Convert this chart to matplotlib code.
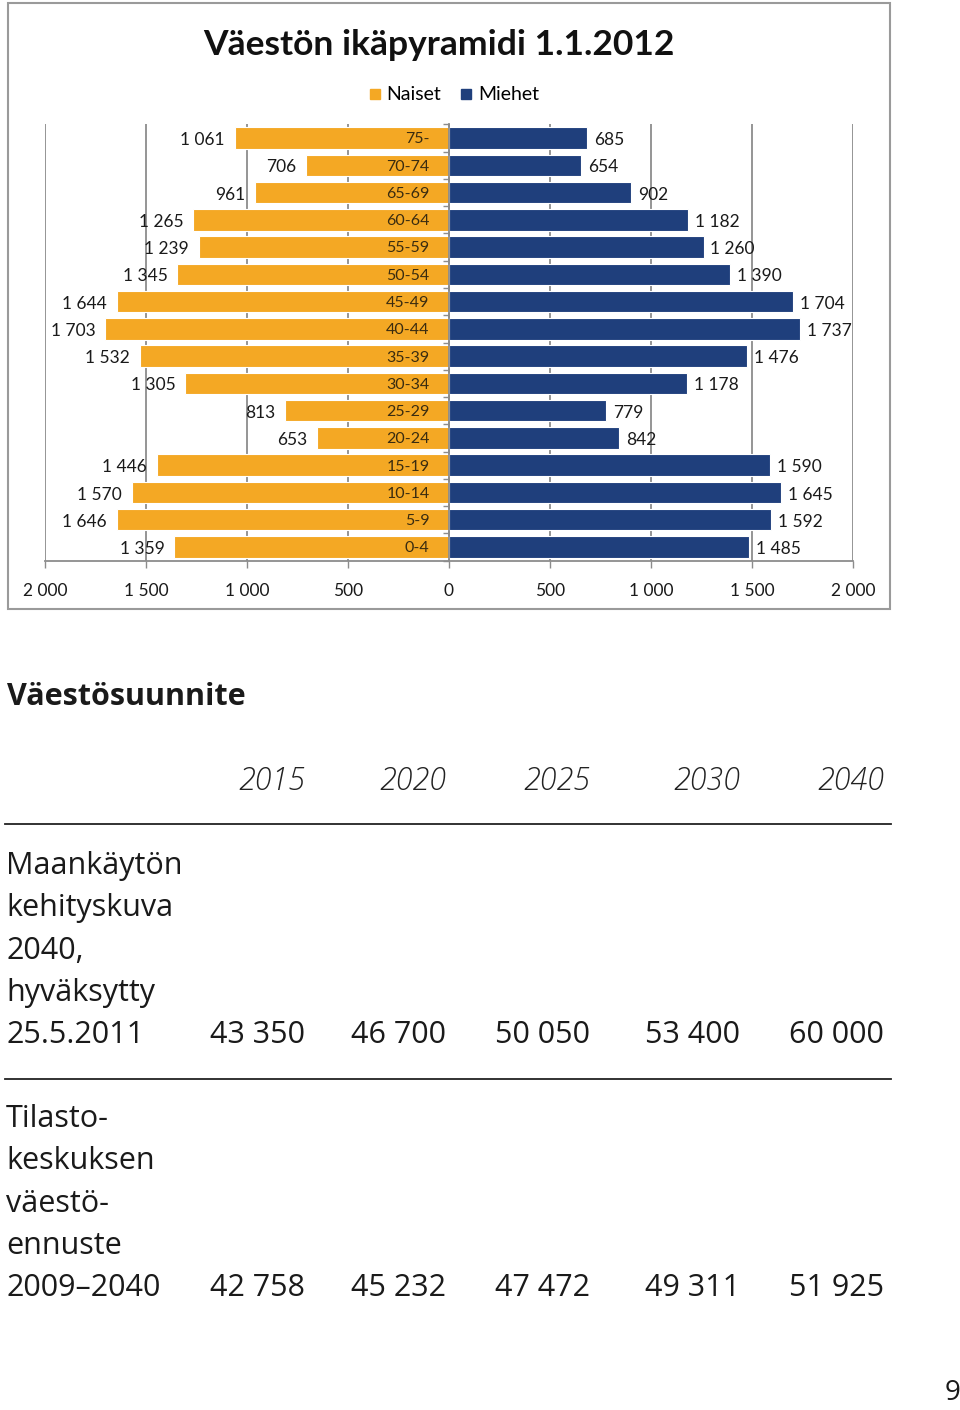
import numpy as np
import matplotlib.pyplot as plt
from matplotlib.lines import Line2D
from matplotlib.patches import Rectangle

# Ikäryhmät alhaalta ylös
ages = ['0-4', '5-9', '10-14', '15-19', '20-24', '25-29', '30-34', '35-39',
        '40-44', '45-49', '50-54', '55-59', '60-64', '65-69', '70-74', '75-']
naiset = [1359, 1646, 1570, 1446, 653, 813, 1305, 1532,
          1703, 1644, 1345, 1239, 1265, 961, 706, 1061]
miehet = [1485, 1592, 1645, 1590, 842, 779, 1178, 1476,
          1737, 1704, 1390, 1260, 1182, 902, 654, 685]
xticks = [-2000, -1500, -1000, -500, 0, 500, 1000, 1500, 2000]

# Väestösuunnite-taulukko
years = ['2015', '2020', '2025', '2030', '2040']
row_labels = [['Maankäytön', 'kehityskuva', '2040,', 'hyväksytty', '25.5.2011'],
              ['Tilasto-', 'keskuksen', 'väestö-', 'ennuste', '2009–2040']]
row_values = [[43350, 46700, 50050, 53400, 60000],
              [42758, 45232, 47472, 49311, 51925]]

ORANGE = '#F4A824'
NAVY = '#1F3F7C'
GRID = '#8c8c8c'
W, H = 960, 1410


def fmt(v):
    return f'{abs(v):,}'.replace(',', ' ')


def fx(px):
    return px / W


def fy(py):
    return 1 - py / H


fig = plt.figure(figsize=(9.6, 14.1), dpi=100)
fig.patch.set_facecolor('white')

# chart frame
fig.patches.append(Rectangle((fx(8), fy(609)), fx(890) - fx(8), fy(3) - fy(609),
                             transform=fig.transFigure, fill=False,
                             edgecolor='#9a9a9a', linewidth=1.5))

ax = fig.add_axes([fx(45), fy(560.6), fx(853) - fx(45), fy(124.4) - fy(560.6)])
y = np.arange(len(ages))
ax.barh(y, [-v for v in naiset], height=0.79, color=ORANGE, edgecolor='white',
        linewidth=0.8, zorder=3)
ax.barh(y, miehet, height=0.79, color=NAVY, edgecolor='white',
        linewidth=0.8, zorder=3)

ax.set_xlim(-2000, 2000)
ax.set_ylim(-0.5, len(ages) - 0.5)
ax.set_xticks(xticks)
ax.set_xticklabels([fmt(t) for t in xticks], family='Lato', fontsize=12.5,
                   color='#1a1a1a')
ax.tick_params(axis='x', length=5, width=1, color=GRID, pad=11)
ax.set_yticks([])
ax.set_yticks(np.arange(-0.5, len(ages)), minor=True)
ax.tick_params(axis='y', which='minor', length=4, width=1, color=GRID,
               direction='out')
ax.grid(axis='x', color=GRID, linewidth=1.3, zorder=0)
for s in ['top', 'right']:
    ax.spines[s].set_visible(False)
ax.spines['bottom'].set_color(GRID)
ax.spines['bottom'].set_linewidth(1.3)
# y-axis spine at zero for the minor ticks
ax.spines['left'].set_position(('data', 0))
ax.spines['left'].set_color(GRID)
ax.spines['left'].set_linewidth(1.3)
ax.spines['left'].set_zorder(4)

for i in range(len(ages)):
    ax.annotate(fmt(naiset[i]), (-naiset[i], i), xytext=(-7, -1.5),
                textcoords='offset points', ha='right', va='center',
                family='Lato', fontsize=12.5, color='#1a1a1a', zorder=5)
    ax.annotate(fmt(miehet[i]), (miehet[i], i), xytext=(5, -1.5),
                textcoords='offset points', ha='left', va='center',
                family='Lato', fontsize=12.5, color='#1a1a1a', zorder=5)
    ax.annotate(ages[i], (0, i), xytext=(-14, -1), textcoords='offset points',
                ha='right', va='center', family='Lato', fontsize=11.5,
                color='#3a2c10', zorder=5)

fig.text(fx(439), fy(45), 'Väestön ikäpyramidi 1.1.2012', ha='center',
         va='center', family='Lato', fontweight='bold', fontsize=25.5,
         color='#111111')

handles = [Line2D([], [], marker='s', linestyle='none', markersize=7,
                  color=ORANGE, label='Naiset'),
           Line2D([], [], marker='s', linestyle='none', markersize=7,
                  color=NAVY, label='Miehet')]
fig.legend(handles=handles, loc='center', bbox_to_anchor=(fx(452), fy(95)),
           ncol=2, frameon=False, prop={'family': 'Lato', 'size': 14},
           handletextpad=0.1, columnspacing=0.8, handlelength=1.0)

# Väestösuunnite
fig.text(fx(7), fy(697), 'Väestösuunnite', ha='left', va='center',
         family='Open Sans', fontweight='bold', fontsize=22, color='#1a1a1a')

col_x = [305, 446, 590, 740, 884]
for cx, yr in zip(col_x, years):
    fig.text(fx(cx), fy(781), yr, ha='right', va='center', family='Open Sans',
             fontstyle='italic', fontweight='light', fontsize=22,
             color='#222222')

for py in [824, 1079]:
    fig.add_artist(Line2D([fx(5), fx(891)], [fy(py), fy(py)],
                          transform=fig.transFigure, color='#222222',
                          linewidth=1.3))

row_top = [866, 1119]
for r in range(2):
    for k, txt in enumerate(row_labels[r]):
        fig.text(fx(6), fy(row_top[r] + k * 42.3), txt, ha='left',
                 va='center', family='Open Sans', fontsize=22,
                 color='#1a1a1a')
    vy = row_top[r] + 4 * 42.3
    for cx, v in zip(col_x, row_values[r]):
        fig.text(fx(cx), fy(vy), fmt(v), ha='right', va='center',
                 family='Open Sans', fontsize=22, color='#1a1a1a')

fig.text(fx(960), fy(1393), '9', ha='right', va='center', family='Open Sans',
         fontsize=20, color='#1a1a1a')

fig.savefig('out.png', dpi=100)
